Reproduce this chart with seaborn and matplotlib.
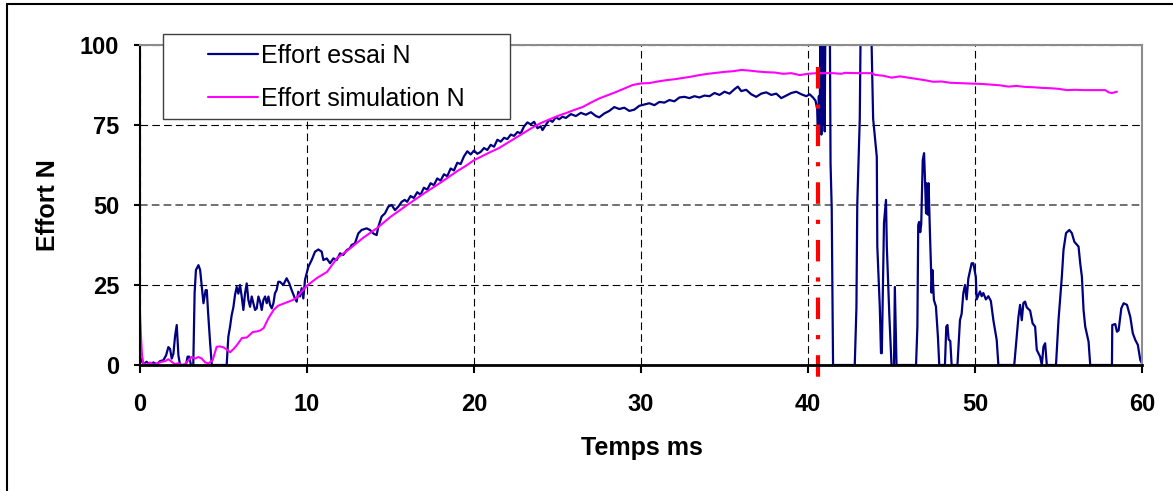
import matplotlib
matplotlib.use("Agg")
import matplotlib.pyplot as plt
import pandas as pd
import seaborn as sns
from matplotlib.lines import Line2D
from matplotlib.patches import Rectangle

# ---------------- data ----------------
series_labels = ["Effort essai N", "Effort simulation N"]
x_label = "Temps ms"
y_label = "Effort N"
x_ticks = [0, 10, 20, 30, 40, 50, 60]
y_ticks = [0, 25, 50, 75, 100]

essai_t = [
    0.0, 0.1, 0.2, 0.4, 0.6, 0.8, 1.0, 1.2, 1.4, 1.56, 1.7, 1.8, 1.9, 2.0, 2.1, 2.2, 2.3, 2.4, 2.6, 2.75, 2.85, 2.95, 3.05,
    3.19, 3.27, 3.35, 3.5, 3.6, 3.7, 3.8, 3.93, 4.0, 4.07, 4.2, 4.3, 4.7, 5.19,
    5.29, 5.39, 5.49, 5.59, 5.69, 5.79, 5.89, 5.99, 6.09, 6.19, 6.29, 6.39, 6.49, 6.59, 6.69, 6.79, 6.89, 6.99,
    7.09, 7.19, 7.29, 7.39, 7.49, 7.59, 7.69, 7.79, 7.89, 7.99, 8.08, 8.18, 8.28,
    8.38, 8.58, 8.78, 8.94, 9.08, 9.28, 9.38, 9.48, 9.58, 9.68, 9.78, 9.88, 10.08, 10.28, 10.48, 10.68, 10.88,
    10.98, 11.18, 11.38, 11.58, 11.78, 11.98, 12.17, 12.38, 12.57, 12.67, 12.87, 13.07, 13.27, 13.57, 13.77,
    13.97, 14.17, 14.27, 14.47, 14.67, 14.87, 15.07, 15.27, 15.47, 15.67, 15.85,
    16.0, 16.2, 16.4, 16.6, 16.8, 17.0, 17.2, 17.4, 17.6, 17.8, 18.0, 18.2, 18.4, 18.6, 18.8, 19.0, 19.2, 19.4,
    19.6, 19.8, 20.0, 20.2, 20.4, 20.6, 20.8, 21.0, 21.2, 21.4, 21.6, 21.8, 22.0, 22.2, 22.4, 22.6, 22.8, 23.0,
    23.2, 23.4, 23.6, 23.8, 24.0, 24.1, 24.3, 24.5, 24.7, 24.9, 25.1, 25.3, 25.5, 25.8, 26.1, 26.4, 26.7, 27.0,
    27.3, 27.5, 27.8, 28.1, 28.4, 28.7, 29.0, 29.3, 29.6, 29.9, 30.2, 30.5, 30.8, 31.1, 31.4, 31.7, 32.0, 32.3,
    32.6, 32.9, 33.2, 33.5, 33.8, 34.1, 34.4, 34.7, 35.0, 35.3, 35.6, 35.8, 36.0, 36.3, 36.6, 36.9, 37.2, 37.5,
    37.8, 38.1, 38.4, 38.7, 39.0, 39.3, 39.6, 39.9, 40.1, 40.3, 40.45,
    40.55, 40.6, 40.65, 40.7, 40.75, 40.8, 40.85, 40.9, 40.95, 41.0, 41.05, 41.3, 41.35, 41.42, 41.5,
    42.8, 42.9, 42.95, 43.1, 43.17, 43.75, 43.9, 44.12, 44.15, 44.3, 44.37, 44.42, 44.55, 44.67, 44.72, 44.87, 45.0,
    45.15, 45.2, 45.3, 46.47, 46.55, 46.6, 46.65, 46.72, 46.78, 46.87, 46.95, 47.0, 47.07, 47.1, 47.17, 47.22,
    47.3, 47.37, 47.4, 47.45, 47.54, 47.66, 47.78, 47.86, 48.2, 48.28, 48.35, 48.42, 48.52, 48.6,
    48.95, 49.1, 49.2, 49.3, 49.4, 49.5, 49.6, 49.8, 49.9, 50.0, 50.05, 50.1, 50.3, 50.4, 50.5, 50.65, 50.8, 50.95,
    51.1, 51.3, 51.4, 52.35, 52.5, 52.6, 52.7, 52.8, 52.9, 53.0, 53.1, 53.3, 53.45, 53.6, 53.7, 53.9, 54.0, 54.1,
    54.2, 54.3, 54.85, 55.0, 55.2, 55.3, 55.45, 55.65, 55.8, 55.95, 56.2, 56.3, 56.4, 56.5, 56.6, 56.8, 56.9,
    58.2, 58.22, 58.4, 58.5, 58.6, 58.76, 58.9, 59.1, 59.3, 59.45, 59.6, 59.75, 59.9, 60.0,
]
essai_f = [
    0.5, 2.0, 0.3, 1.0, 0.0, 0.8, 0.2, 1.2, 1.5, 3.0, 5.6, 5.0, 2.0, 3.5, 9.0, 12.5, 3.0, 0.0, 0.0, 0.0, 2.6, 2.6, 0.0,
    0.0, 22.5, 29.7, 31.2, 29.7, 24.4, 19.3, 23.4, 23.4, 17.0, 6.8, 0.0, 0.0, 0.0,
    8.9, 11.9, 15.6, 18.0, 21.9, 24.4, 22.3, 25.0, 21.4, 17.2, 22.4, 25.5, 20.3, 18.2, 21.4, 19.3, 17.2, 17.7,
    21.4, 19.8, 17.2, 20.3, 21.4, 19.3, 21.4, 18.75, 17.7, 19.3, 22.4, 23.4, 26.0,
    26.0, 25.0, 27.1, 25.5, 23.4, 20.8, 19.8, 22.9, 21.4, 24.0, 20.8, 26.6, 30.7, 32.8, 35.4, 36.1, 35.4,
    32.8, 33.3, 31.8, 33.3, 32.8, 34.9, 34.4, 35.9, 36.5, 37.5, 38.0, 41.1, 42.2, 42.7, 42.2,
    41.1, 40.6, 43.2, 46.4, 47.4, 49.5, 50.0, 48.4, 49.5, 51.0, 51.6,
    51.0, 52.8, 52.2, 54.0, 53.2, 55.4, 54.8, 56.8, 56.2, 58.3, 57.6, 59.6, 59.0, 61.4, 60.8, 63.2, 62.8, 65.2,
    66.8, 65.8, 67.0, 66.0, 66.6, 67.8, 67.2, 68.8, 68.2, 70.4, 69.8, 71.0, 70.6, 72.0, 71.6, 72.8, 72.4, 74.6,
    75.8, 75.2, 76.0, 74.0, 74.6, 73.4, 75.0, 76.6, 76.0, 77.4, 76.8, 77.6, 77.2, 78.4, 77.8, 78.8, 78.2, 79.0,
    77.8, 77.4, 78.6, 79.4, 80.6, 80.0, 80.4, 79.4, 79.8, 81.0, 81.4, 81.8, 81.2, 82.2, 82.0, 82.8, 82.4, 83.6,
    83.8, 83.4, 84.0, 83.6, 84.2, 84.0, 85.0, 84.4, 85.4, 84.8, 86.2, 87.0, 85.6, 86.0, 84.6, 83.8, 84.8, 85.2,
    84.4, 84.8, 83.4, 84.2, 85.0, 85.4, 84.6, 84.0, 84.6, 83.6, 82.6,
    80.0, 70.0, 84.0, 74.0, 115.0, 72.0, 115.0, 75.0, 115.0, 73.0, 115.0, 115.0, 63.0, 49.0, 0.0,
    0.0, 18.0, 50.0, 77.0, 115.0, 115.0, 77.0, 65.0, 37.0, 18.0, 3.7, 3.7, 44.4, 51.6, 37.0, 15.6, 0.0,
    0.0, 24.4, 0.0, 0.0, 12.0, 43.7, 44.7, 41.5, 44.0, 64.0, 66.2, 58.8, 47.4, 56.8, 47.0, 56.8,
    41.6, 29.7, 22.6, 29.7, 20.3, 18.3, 8.8, 0.0, 0.0, 12.0, 12.5, 8.0, 7.5, 0.0,
    0.0, 14.0, 16.0, 22.4, 25.0, 20.5, 27.0, 31.8, 31.8, 29.0, 27.5, 20.5, 23.0, 21.5, 22.5, 20.5, 21.5, 20.0,
    14.0, 7.8, 0.0, 0.0, 8.8, 15.0, 18.8, 14.0, 19.4, 19.8, 18.0, 17.0, 13.0, 12.0, 4.7, 2.6, 0.0, 5.7,
    6.8, 0.0, 0.0, 14.0, 27.6, 36.0, 41.2, 42.2, 41.2, 38.5, 37.0, 31.8, 27.6, 17.2, 12.0, 7.3, 0.0,
    0.0, 12.5, 12.8, 10.4, 10.8, 17.7, 19.3, 18.8, 15.0, 9.9, 7.8, 6.3, 1.5, 0.5,
]

sim_t = [
    0.0, 0.05, 0.12, 0.2, 0.4, 0.6, 0.8, 1.0, 1.3, 1.5, 1.7, 1.9, 2.1, 2.3, 2.5, 2.7, 2.9, 3.1, 3.3, 3.5, 3.7, 3.9,
    4.1, 4.35, 4.59, 4.8, 5.0, 5.2, 5.4, 5.6, 5.8, 6.1, 6.4, 6.75, 7.0, 7.2, 7.4, 7.7, 8.0, 8.26,
    8.5, 8.8, 9.1, 9.38, 9.75, 10.05, 10.6, 11.2, 11.8, 12.6, 13.35, 14.2, 15.0, 16.0, 16.5, 17.0, 17.5, 18.0,
    18.5, 19.0, 19.5, 20.0, 20.5, 21.0, 21.5, 22.0, 22.5, 23.0, 23.5, 24.0, 24.5, 25.0, 25.5, 26.0, 26.5, 27.0,
    27.5, 28.0, 28.5, 29.0, 29.5, 30.0, 30.5, 31.0, 31.5, 32.0, 32.5, 33.0, 33.5, 34.0, 34.5, 35.0, 35.5, 36.0,
    36.5, 37.0, 37.5, 38.0, 38.5, 39.0, 39.5, 40.0, 40.5, 41.5, 42.0, 42.2, 43.0, 43.8, 44.0, 44.5, 45.0, 45.5,
    46.0, 46.5, 47.0, 47.5, 48.0, 48.5, 49.0, 49.5, 50.0, 50.5, 51.0, 51.5, 52.0, 52.5, 53.0, 53.5, 54.0, 54.5,
    55.0, 55.5, 56.0, 56.5, 57.0, 57.5, 57.8, 58.0, 58.2, 58.5,
]
sim_f = [
    16.0, 10.0, 3.0, 0.5, 0.0, 0.8, 0.0, 0.5, 1.0, 1.2, 1.8, 1.0, 0.2, 0.6, 0.0, 0.3, 1.5, 2.5, 2.0, 2.5, 2.0, 0.8,
    0.5, 1.5, 5.7, 5.8, 5.5, 4.8, 4.0, 5.0, 6.2, 8.4, 8.6, 10.3, 10.5, 10.8, 11.5, 14.7, 17.2, 18.5,
    19.0, 19.6, 20.2, 21.0, 23.4, 25.0, 27.2, 29.1, 33.4, 36.5, 39.7, 42.8, 46.3, 50.0, 51.8, 53.6, 55.3, 57.0,
    58.8, 60.6, 62.2, 64.0, 65.3, 66.6, 67.8, 69.4, 71.0, 72.6, 74.2, 75.6, 76.7, 77.8, 78.7, 79.7, 80.6, 82.0,
    83.3, 84.3, 85.3, 86.4, 87.5, 88.0, 88.1, 88.6, 89.0, 89.3, 89.7, 90.1, 90.6, 91.0, 91.3, 91.6, 91.8, 92.2,
    92.0, 91.7, 91.5, 91.4, 91.0, 91.2, 90.6, 91.0, 91.2, 91.2, 91.0, 91.3, 91.2, 91.2, 90.7, 90.4, 89.8, 90.2,
    89.8, 89.4, 89.0, 88.5, 88.6, 88.2, 88.1, 88.0, 87.9, 87.8, 87.6, 87.4, 87.0, 87.2, 86.9, 86.8, 86.6, 86.5,
    86.3, 85.9, 86.0, 85.9, 85.9, 85.9, 85.9, 85.2, 85.0, 85.4,
]

rupture_t = 40.6          # ms, vertical marker
rupture_span = [93, -4]   # N, extent of the marker

# ---------------- style ----------------
sns.set_style("white")
plt.rcParams["font.family"] = ["Liberation Sans", "DejaVu Sans"]
plt.rcParams["lines.scale_dashes"] = False
for key in ["text.color", "axes.labelcolor", "xtick.color", "ytick.color", "xtick.labelcolor", "ytick.labelcolor"]:
    plt.rcParams[key] = "black"

W, H = 1173, 491
fig = plt.figure(figsize=(W / 100, H / 100), dpi=100)
ax = fig.add_axes([140 / W, 1 - 365 / H, 1002 / W, 320 / H])

navy = "#000080"
magenta = "#FF00FF"

df_essai = pd.DataFrame({"t": essai_t, "f": essai_f})
df_sim = pd.DataFrame({"t": sim_t, "f": sim_f})

sns.lineplot(data=df_essai, x="t", y="f", ax=ax, color=navy, linewidth=1.6,
             estimator=None, sort=False, legend=False, zorder=3)
sns.lineplot(data=df_sim, x="t", y="f", ax=ax, color=magenta, linewidth=1.5,
             estimator=None, sort=False, legend=False, zorder=3)

ax.plot([rupture_t, rupture_t], rupture_span, color="#FF0000", linewidth=3.0,
        linestyle=(0, (15.5, 11.5, 3.0, 11.5)), dash_capstyle="butt",
        clip_on=False, zorder=4)

ax.set_xlim(x_ticks[0], x_ticks[-1])
ax.set_ylim(y_ticks[0], y_ticks[-1])
ax.set_xticks(x_ticks, labels=[str(v) for v in x_ticks], fontsize=17, fontweight="bold", color="black")
ax.set_yticks(y_ticks, labels=[str(v) for v in y_ticks], fontsize=17, fontweight="bold", color="black")
ax.tick_params(axis="y", direction="out", length=4.5, width=1.5, color="black", pad=10.5, left=True)
ax.tick_params(axis="x", direction="out", length=6, width=1.5, color="black", pad=14, bottom=True)

ax.set_axisbelow(True)
ax.grid(True, color="black", linewidth=0.8, linestyle=(0, (5.5, 3.0)))
for val, gl in zip(y_ticks, ax.yaxis.get_gridlines()):
    if val == 50:
        gl.set_color("#707070")
        gl.set_linewidth(1.4)

for side in ["left", "bottom"]:
    ax.spines[side].set_color("black")
ax.spines["left"].set_linewidth(1.5)
ax.spines["bottom"].set_linewidth(2.0)
for side in ["top", "right"]:
    ax.spines[side].set_color("#8C8C8C")
    ax.spines[side].set_linewidth(1.5)
for sp in ax.spines.values():
    sp.set_zorder(5)

ax.set_xlabel(x_label, fontsize=18, fontweight="bold", color="black")
ax.set_ylabel(y_label, fontsize=18, fontweight="bold", color="black")
ax.xaxis.set_label_coords((642 - 140) / 1002, (365 - 448) / 320)
ax.xaxis.label.set_va("center")
ax.yaxis.set_label_coords((48 - 140) / 1002, 0.5)
ax.yaxis.label.set_va("center")

# legend box
box = Rectangle((163 / W, 1 - 119 / H), 347 / W, 85 / H, transform=fig.transFigure,
                facecolor="white", edgecolor="#404040", linewidth=1.0, zorder=5)
fig.add_artist(box)
handles = [Line2D([], [], color=navy, linewidth=1.6), Line2D([], [], color=magenta, linewidth=1.5)]
leg = fig.legend(handles, series_labels, loc="upper left", bbox_to_anchor=(208 / W, 1 - 44 / H),
                 frameon=False, borderpad=0, borderaxespad=0, handlelength=2.0, handletextpad=0.12,
                 labelspacing=0.76, prop={"size": 18, "weight": "normal"})
leg.set_zorder(6)
for txt in leg.get_texts():
    txt.set_color("black")

# outer frame (left and top edges)
fig.add_artist(Line2D([7 / W, 7 / W], [0, 1 - 4 / H], transform=fig.transFigure, color="black", linewidth=1.5))
fig.add_artist(Line2D([7 / W, 1], [1 - 4 / H, 1 - 4 / H], transform=fig.transFigure, color="black", linewidth=1.5))

fig.savefig("out.png", dpi=100)
